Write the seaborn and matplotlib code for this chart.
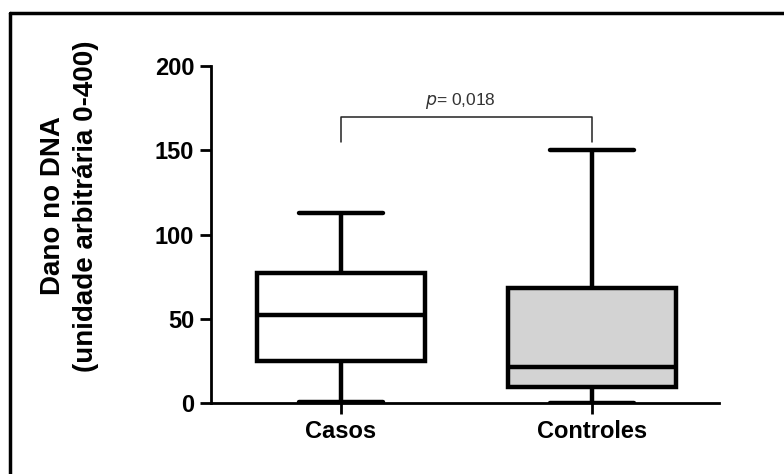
import matplotlib
matplotlib.use("Agg")
import matplotlib.pyplot as plt
import seaborn as sns
import pandas as pd
from matplotlib.lines import Line2D

# Five-number summaries (min, Q1, median, Q3, max)
categories = ["Casos", "Controles"]
casos_values = [0.5, 25, 52, 77, 113]
controles_values = [0.0, 9.5, 21.5, 68, 150]
yticks = [0, 50, 100, 150, 200]
p_text = "$\\it{p}$= 0,018"
ylabel = "Dano no DNA\n(unidade arbitrária 0-400)"
bracket_y = [155, 170, 170, 155]

df = pd.DataFrame({
    "grupo": [categories[0]] * len(casos_values) + [categories[1]] * len(controles_values),
    "valor": casos_values + controles_values,
})

sns.set_style("white")
plt.rcParams["font.family"] = ["Liberation Sans", "DejaVu Sans"]
plt.rcParams["text.color"] = "black"
plt.rcParams["xtick.color"] = "black"
plt.rcParams["ytick.color"] = "black"

fig = plt.figure(figsize=(7.84, 4.74), dpi=100)
ax = fig.add_axes([211 / 784, 1 - 403 / 474, (719 - 211) / 784, (403 - 66) / 474])

sns.boxplot(data=df, x="grupo", y="valor", hue="grupo", order=categories,
            palette={"Casos": "white", "Controles": "#d3d3d3"}, legend=False,
            whis=(0, 100), width=0.67, linewidth=3.2, linecolor="black",
            showfliers=False, ax=ax,
            medianprops=dict(color="black", linewidth=3.2),
            whiskerprops=dict(color="black", linewidth=3.2),
            capprops=dict(color="black", linewidth=3.2),
            boxprops=dict(edgecolor="black", linewidth=3.2))

# significance bracket
ax.plot([0, 0, 1, 1], bracket_y, color="#222222", linewidth=1.1, clip_on=False)
ax.text(0.475, 179, p_text, ha="center", va="center", fontsize=12.5, color="#333333")

ax.set_xlim(-0.518, 1.506)
ax.set_ylim(0, 200)
ax.set_yticks(yticks)
ax.set_xlabel("")
ax.set_ylabel("")
fig.text(70 / 784, 1 - 206 / 474, ylabel, rotation=90, ha="center", va="center",
         fontsize=20, fontweight="bold", linespacing=1.35, multialignment="center",
         color="black")
for lab in ax.get_xticklabels() + ax.get_yticklabels():
    lab.set_fontweight("bold")
    lab.set_fontsize(17)
    lab.set_color("black")
ax.tick_params(axis="both", direction="out", length=8, width=2, color="black",
               labelcolor="black", left=True, bottom=True, pad=4)
for s in ["top", "right"]:
    ax.spines[s].set_visible(False)
for s in ["left", "bottom"]:
    ax.spines[s].set_linewidth(2)
    ax.spines[s].set_color("black")

# outer frame (top and left edges visible)
fig.add_artist(Line2D([10 / 784, 1.0], [1 - 13 / 474, 1 - 13 / 474], color="black",
                      linewidth=2.5, transform=fig.transFigure))
fig.add_artist(Line2D([10 / 784, 10 / 784], [0.0, 1 - 13 / 474], color="black",
                      linewidth=2.5, transform=fig.transFigure))

fig.savefig("out.png", dpi=100)
